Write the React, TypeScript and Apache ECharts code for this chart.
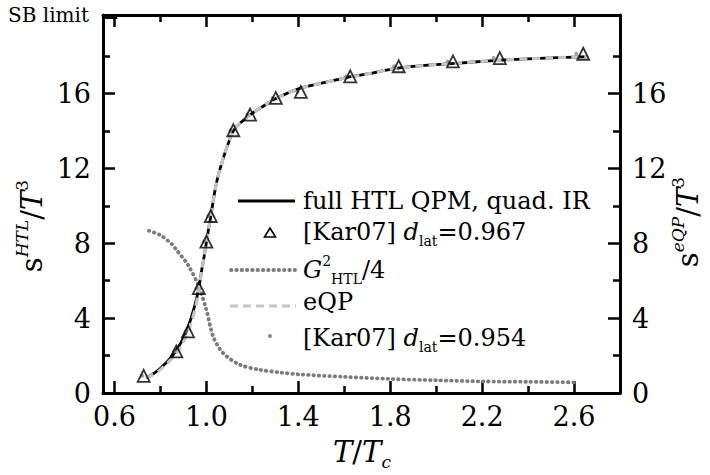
import React, { useEffect, useRef } from "react";
import * as echarts from "echarts";

// ---- data ----
const htlT = [0.738, 0.76, 0.8, 0.85, 0.88, 0.9, 0.92, 0.95, 0.967, 0.98, 0.99, 1.0, 1.01, 1.02, 1.03, 1.04, 1.05, 1.06, 1.08, 1.1, 1.117, 1.15, 1.2, 1.25, 1.3, 1.4, 1.5, 1.6, 1.7, 1.8, 1.9, 2.0, 2.1, 2.2, 2.3, 2.4, 2.5, 2.66];
const htlS = [0.82, 0.95, 1.32, 1.95, 2.5, 2.95, 3.5, 4.7, 5.6, 6.6, 7.3, 8.05, 8.8, 9.5, 10.3, 11.0, 11.55, 12.0, 12.8, 13.5, 14.0, 14.45, 14.95, 15.35, 15.72, 16.25, 16.55, 16.83, 17.05, 17.3, 17.45, 17.55, 17.63, 17.72, 17.8, 17.86, 17.91, 17.98];
const eqpT = [0.738, 0.76, 0.8, 0.85, 0.88, 0.9, 0.92, 0.95, 0.967, 0.98, 0.99, 1.0, 1.01, 1.02, 1.03, 1.04, 1.05, 1.06, 1.08, 1.1, 1.117, 1.15, 1.2, 1.25, 1.3, 1.4, 1.5, 1.6, 1.7, 1.8, 1.9, 2.0, 2.1, 2.2, 2.3, 2.4, 2.5, 2.66];
const eqpS = [0.82, 0.93, 1.25, 1.85, 2.3, 2.72, 3.25, 4.45, 5.5, 6.55, 7.3, 8.05, 8.8, 9.5, 10.3, 11.0, 11.55, 12.0, 12.8, 13.5, 14.0, 14.45, 14.95, 15.35, 15.72, 16.25, 16.55, 16.83, 17.05, 17.3, 17.45, 17.55, 17.63, 17.72, 17.8, 17.86, 17.91, 17.98];
const g2T = [0.75, 0.8, 0.85, 0.87, 0.92, 0.967, 1.0, 1.03, 1.073, 1.146, 1.233, 1.32, 1.4, 1.6, 1.8, 2.0, 2.2, 2.4, 2.61];
const g2S = [8.67, 8.43, 7.95, 7.64, 6.84, 5.69, 4.44, 3.0, 2.13, 1.51, 1.24, 1.1, 1.0, 0.86, 0.75, 0.68, 0.62, 0.6, 0.57];
const kar967T = [0.727, 0.869, 0.92, 0.967, 1.0, 1.019, 1.117, 1.19, 1.302, 1.411, 1.626, 1.837, 2.073, 2.277, 2.64];
const kar967S = [0.92, 2.22, 3.29, 5.6, 8.09, 9.46, 14.04, 14.88, 15.77, 16.09, 16.92, 17.46, 17.72, 17.9, 18.13];
const kar954T = [0.72, 0.86, 0.91, 0.957, 0.99, 1.008, 1.105, 1.178, 1.288, 1.396, 1.608, 1.817, 2.05, 2.25, 2.61];
const kar954S = [0.92, 2.22, 3.29, 5.6, 8.09, 9.46, 14.04, 14.88, 15.77, 16.09, 16.92, 17.46, 17.72, 17.9, 18.13];
const sbLimitT = [0.55, 0.612];
const sbLimitS = [20.05, 20.05];

const xMajor = [0.6, 1.0, 1.4, 1.8, 2.2, 2.6];
const xMinor = [0.8, 1.2, 1.6, 2.0, 2.4];
const yMajor = [0, 4, 8, 12, 16];
const yLabels = [0, 4, 8, 12, 16];

const X_MIN = 0.55;
const X_MAX = 2.8;
const Y_MIN = 0;
const Y_MAX = 20.2;

const FONT = "DejaVu Serif";

const zip = (a: number[], b: number[]) => a.map((v, i) => [v, b[i]]);

export default function App() {
  const ref = useRef<HTMLDivElement>(null);
  useEffect(() => {
    if (!ref.current) return;
    const chart = echarts.init(ref.current, undefined, { renderer: "svg" });

    const axisLine = { show: true, lineStyle: { color: "#000", width: 3 } };
    const majorTick = (vals: number[]) => ({
      show: true,
      inside: true,
      length: 12,
      customValues: vals,
      lineStyle: { color: "#000", width: 2.5 },
    });
    const minorTickAx = (vals: number[]) => ({
      show: true,
      inside: true,
      length: 7,
      customValues: vals,
      lineStyle: { color: "#000", width: 2.5 },
    });
    const labelStyle = { fontFamily: FONT, fontSize: 27, color: "#000" };

    const xBase = { type: "value", min: X_MIN, max: X_MAX, splitLine: { show: false } };
    const yBase = {
      type: "value",
      min: Y_MIN,
      max: Y_MAX,
      interval: 4,
      splitLine: { show: false },
      minorTick: { show: true, splitNumber: 2, length: 7, lineStyle: { color: "#000", width: 2.5 } },
      minorSplitLine: { show: false },
    };

    const txt = (x: number, y: number, text: string, rich: any, extra: any = {}) => ({
      type: "text",
      x,
      y,
      ...extra,
      style: {
        text,
        rich,
        fontFamily: FONT,
        fontSize: 24,
        fill: "#000",
        align: "left",
        verticalAlign: "middle",
        ...(extra.style || {}),
      },
    });

    const legRich = {
      i: { fontFamily: FONT, fontSize: 24, fontStyle: "italic", lineHeight: 32, verticalAlign: "middle" },
      n: { fontFamily: FONT, fontSize: 24, lineHeight: 32, verticalAlign: "middle" },
      sub: { fontFamily: FONT, fontSize: 14, lineHeight: 14, verticalAlign: "bottom" },
      sup: { fontFamily: FONT, fontSize: 14, lineHeight: 14, verticalAlign: "top" },
    };
    const titleRich = {
      n: { fontFamily: FONT, fontSize: 29, lineHeight: 37, verticalAlign: "middle" },
      i: { fontFamily: FONT, fontSize: 29, fontStyle: "italic", lineHeight: 37, verticalAlign: "middle" },
      sup: { fontFamily: FONT, fontSize: 17, fontStyle: "italic", lineHeight: 17, verticalAlign: "top" },
      supn: { fontFamily: FONT, fontSize: 17, lineHeight: 17, verticalAlign: "top" },
      sub: { fontFamily: FONT, fontSize: 17, fontStyle: "italic", lineHeight: 17, verticalAlign: "bottom" },
    };

    const option: any = {
      animation: false,
      grid: { left: 103, right: 90, top: 15, bottom: 82, containLabel: false },
      xAxis: [
        {
          ...xBase,
          position: "bottom",
          axisLine,
          axisTick: majorTick(xMajor),
          axisLabel: { ...labelStyle, margin: 10, customValues: xMajor, formatter: (v: number) => v.toFixed(1) },
        },
        {
          ...xBase,
          position: "bottom",
          axisLine: { show: false },
          axisTick: minorTickAx(xMinor),
          axisLabel: { show: false },
        },
        {
          ...xBase,
          position: "top",
          axisLine,
          axisTick: majorTick(xMajor),
          axisLabel: { show: false },
        },
        {
          ...xBase,
          position: "top",
          axisLine: { show: false },
          axisTick: minorTickAx(xMinor),
          axisLabel: { show: false },
        },
      ],
      yAxis: [
        {
          ...yBase,
          position: "left",
          axisLine,
          axisTick: majorTick(yMajor),
          axisLabel: { ...labelStyle, margin: 12, customValues: yLabels },
        },
        {
          ...yBase,
          position: "right",
          axisLine,
          axisTick: majorTick(yMajor),
          axisLabel: { ...labelStyle, margin: 12, customValues: yLabels },
        },
      ],
      series: [
        {
          type: "line",
          data: zip(sbLimitT, sbLimitS),
          showSymbol: false,
          lineStyle: { color: "#000", width: 2.5 },
          z: 1,
        },
        {
          name: "G2",
          type: "line",
          data: zip(g2T, g2S),
          smooth: 0.3,
          showSymbol: false,
          lineStyle: { color: "#7c7c7c", width: 3.8, type: [0.5, 4.8], cap: "round" },
          z: 2,
        },
        {
          name: "full HTL",
          type: "line",
          data: zip(htlT, htlS),
          smooth: 0.3,
          showSymbol: false,
          lineStyle: { color: "#000", width: 2.8 },
          z: 3,
        },
        {
          name: "eQP",
          type: "line",
          data: zip(eqpT, eqpS),
          smooth: 0.3,
          showSymbol: false,
          lineStyle: { color: "#c4c4c4", width: 3.2, type: [8, 5] },
          z: 4,
        },
        {
          name: "Kar07 0.954",
          type: "scatter",
          data: zip(kar954T, kar954S),
          symbol: "circle",
          symbolSize: 4,
          itemStyle: { color: "#888" },
          z: 5,
        },
        {
          name: "Kar07 0.967",
          type: "scatter",
          data: zip(kar967T, kar967S),
          symbol: "triangle",
          symbolSize: 12,
          itemStyle: { color: "rgba(255,255,255,0)", borderColor: "#000", borderWidth: 1.8 },
          z: 6,
        },
      ],
      graphic: [
        {
          type: "text",
          x: 8,
          y: 15,
          style: { text: "SB limit", fontFamily: FONT, fontSize: 20, fill: "#000", align: "left", verticalAlign: "middle" },
        },
        // legend samples
        { type: "line", shape: { x1: 238, y1: 201, x2: 295, y2: 201 }, style: { stroke: "#000", lineWidth: 3 } },
        {
          type: "polygon",
          shape: { points: [[264.5, 237], [275.5, 237], [270, 228]] },
          style: { stroke: "#000", lineWidth: 1.6, fill: "none" },
        },
        {
          type: "line",
          shape: { x1: 231, y1: 270, x2: 295, y2: 270 },
          style: { stroke: "#7c7c7c", lineWidth: 3.8, lineDash: [0.5, 4.8], lineCap: "round" },
        },
        {
          type: "line",
          shape: { x1: 230, y1: 306, x2: 296, y2: 306 },
          style: { stroke: "#c4c4c4", lineWidth: 3.2, lineDash: [8, 5] },
        },
        { type: "circle", shape: { cx: 270, cy: 336, r: 2 }, style: { fill: "#888" } },
        // legend texts
        txt(303, 201, "{n|full HTL QPM, quad. IR}", legRich),
        txt(303, 232, "{n|[Kar07] }{i|d}{sub|lat}{n|=0.967}", legRich),
        txt(303, 270, "{i|G}{sup|2}{sub|HTL}{n|/4}", legRich),
        txt(303, 302, "{n|eQP}", legRich),
        txt(303, 338, "{n|[Kar07] }{i|d}{sub|lat}{n|=0.954}", legRich),
        // axis titles
        txt(32, 226, "{n|s}{sup|HTL}{n|/}{i|T}{supn|3}", titleRich, {
          rotation: Math.PI / 2,
          style: { align: "center" },
        }),
        txt(688, 222, "{n|s}{sup|eQP}{n|/}{i|T}{supn|3}", titleRich, {
          rotation: Math.PI / 2,
          style: { align: "center" },
        }),
        txt(362, 452, "{i|T}{n|/}{i|T}{sub|c}", titleRich, { style: { align: "center" } }),
      ],
    };

    chart.setOption(option);
    return () => chart.dispose();
  }, []);

  return <div ref={ref} style={{ position: "absolute", left: 0, top: 0, width: 710, height: 475 }} />;
}
